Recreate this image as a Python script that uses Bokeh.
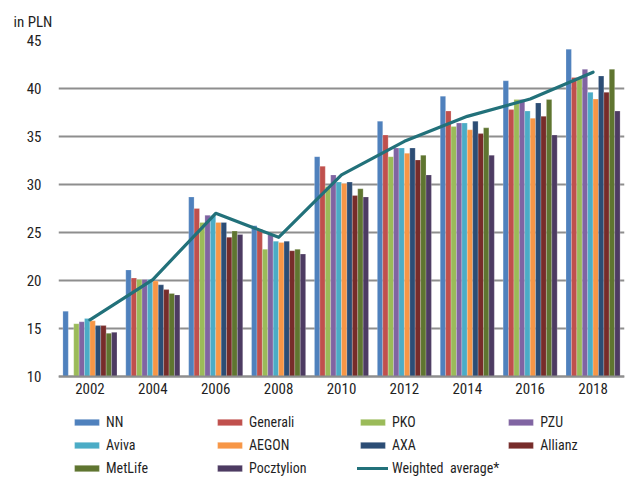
from bokeh.plotting import figure
from bokeh.models import ColumnDataSource, FactorRange, Legend, LegendItem, FixedTicker, Range1d
from bokeh.transform import dodge
from bokeh.embed import file_html
from bokeh.resources import INLINE

nan = float("nan")

years = ["2002", "2004", "2006", "2008", "2010", "2012", "2014", "2016", "2018"]
nn = [16.8, 21.1, 28.7, 25.7, 32.9, 36.6, 39.2, 40.8, 44.1]
generali = [nan, 20.25, 27.5, 25.35, 31.9, 35.15, 37.65, 37.8, 41.15]
pko = [15.5, 20.1, 26.05, 23.25, 29.8, 32.9, 36.05, 38.85, 41.1]
pzu = [15.7, 20.1, 26.8, 24.8, 31.0, 33.8, 36.4, 38.85, 42.0]
aviva = [16.05, 20.1, 26.75, 24.1, 30.25, 33.8, 36.4, 37.65, 39.6]
aegon = [15.8, 19.95, 26.05, 23.95, 30.1, 33.25, 35.7, 36.9, 38.9]
axa = [15.3, 19.55, 26.05, 24.1, 30.25, 33.8, 36.6, 38.5, 41.3]
allianz = [15.3, 19.05, 24.5, 23.1, 28.85, 32.55, 35.3, 37.1, 39.6]
metlife = [14.5, 18.65, 25.15, 23.25, 29.55, 33.05, 35.9, 38.85, 42.0]
pocztylion = [14.6, 18.5, 24.8, 22.75, 28.7, 31.0, 33.05, 35.15, 37.65]
weighted_average = [15.9, 20.1, 27.0, 24.5, 31.0, 34.5, 37.1, 38.9, 41.7]

names = ["NN", "Generali", "PKO", "PZU", "Aviva", "AEGON", "AXA", "Allianz", "MetLife", "Pocztylion"]
series = [nn, generali, pko, pzu, aviva, aegon, axa, allianz, metlife, pocztylion]
colors = ["#4F81BD", "#C0504D", "#9BBB59", "#8064A2", "#4BACC6",
          "#F79646", "#2C4D75", "#772C2A", "#5F7530", "#4D3B62"]
line_color = "#22717A"
y_ticks = [10, 15, 20, 25, 30, 35, 40, 45]

FONT = "Roboto Condensed"
TEXT = "#1F1F1F"
GRID = "#8E8E8E"

data = {"year": years, "avg": weighted_average}
for n, s in zip(names, series):
    data[n] = s
source = ColumnDataSource(data)

# frame: top at 40px (value 45), value 10 at 376px, frame extends to bottom (485px) to hold legend
y_top, y_base = 45.0, 10.0
y_start = y_top - (y_top - y_base) * (485 - 40) / (376 - 40)

p = figure(x_range=FactorRange(factors=years, range_padding=0), y_range=Range1d(y_start, y_top),
           width=628, height=485, output_backend="svg", toolbar_location=None,
           min_border_left=58, min_border_right=4, min_border_top=40, min_border_bottom=0,
           title="in PLN")
p.outline_line_color = None
p.background_fill_color = "white"
p.title.align = "left"
p.title.offset = -45
p.title.text_font = FONT
p.title.text_font_size = "15px"
p.title.text_font_style = "normal"
p.title.text_color = TEXT
p.title.standoff = 20

bw = 0.086
renderers = []
for i, (n, c) in enumerate(zip(names, colors)):
    r = p.vbar(x=dodge("year", (i - 4.5) * bw, range=p.x_range), top=n, bottom=y_base, width=bw,
               source=source, fill_color=c, line_color="white", line_alpha=0.35, line_width=0.6)
    renderers.append(r)

lr = p.line(x="year", y="avg", source=source, line_color=line_color, line_width=3.2,
            line_join="round", line_cap="round")

p.xgrid.grid_line_color = None
p.ygrid.grid_line_color = GRID
p.ygrid.grid_line_width = 2
p.yaxis.ticker = FixedTicker(ticks=y_ticks)
p.yaxis.axis_line_color = None
p.yaxis.major_tick_line_color = None
p.yaxis.minor_tick_line_color = None
p.yaxis.major_label_standoff = 11
p.xaxis.fixed_location = y_base
p.xaxis.axis_line_color = GRID
p.xaxis.axis_line_width = 2
p.xaxis.major_tick_line_color = None
p.xaxis.minor_tick_line_color = None
p.xaxis.major_label_standoff = 0
for ax in (p.xaxis[0], p.yaxis[0]):
    ax.major_label_text_font = FONT
    ax.major_label_text_font_size = "15px"
    ax.major_label_text_color = TEXT

items = [LegendItem(label=n, renderers=[r]) for n, r in zip(names, renderers)]
items.append(LegendItem(label="Weighted  average*", renderers=[lr]))
legend = Legend(items=items, orientation="horizontal", ncols=4, location=(13, 9),
                glyph_width=31, glyph_height=8, label_standoff=4, label_width=102,
                label_height=17, spacing=6, padding=0, margin=0,
                border_line_color=None, background_fill_alpha=0,
                label_text_font=FONT, label_text_font_size="14px", label_text_color=TEXT)
p.add_layout(legend, "center")

open("out.html", "w").write(file_html(p, INLINE))
